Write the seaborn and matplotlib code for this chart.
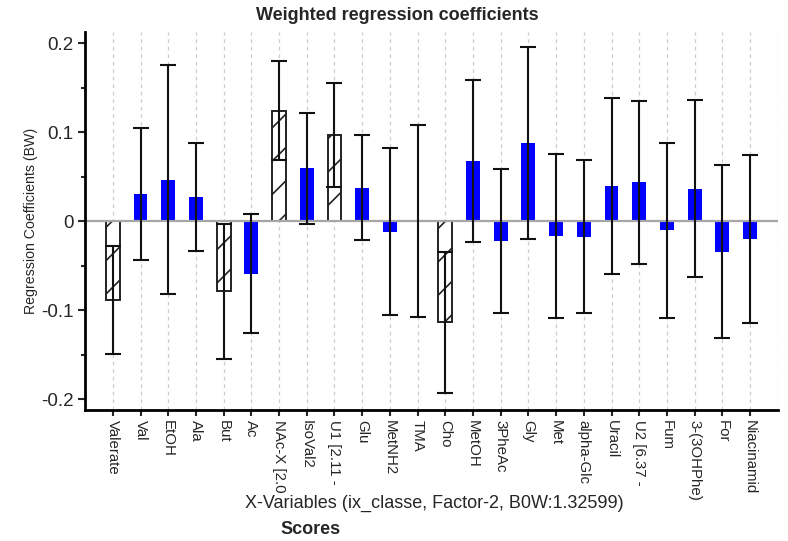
import matplotlib
matplotlib.use("Agg")
import matplotlib.pyplot as plt
from matplotlib.ticker import MultipleLocator
import numpy as np
import pandas as pd
import seaborn as sns

variables = ["Valerate", "Val", "EtOH", "Ala", "But", "Ac", "NAc-X [2.0",
             "IsoVal2", "U1 [2.11 -", "Glu", "MetNH2", "TMA", "Cho", "MetOH",
             "3PheAc", "Gly", "Met", "alpha-Glc", "Uracil", "U2 [6.37 -",
             "Fum", "3-(3OHPhe)", "For", "Niacinamid"]
coefficients = [-0.0885, 0.031, 0.047, 0.0275, -0.0787, -0.0588, 0.1245,
                0.0596, 0.0975, 0.038, -0.0115, 0.0005, -0.1133, 0.068,
                -0.022, 0.088, -0.016, -0.017, 0.040, 0.044,
                -0.0100, 0.037, -0.0340, -0.0195]
uncertainty = [0.061, 0.0745, 0.129, 0.061, 0.076, 0.067, 0.0555,
               0.0626, 0.0585, 0.059, 0.094, 0.108, 0.0795, 0.0908,
               0.0806, 0.1075, 0.092, 0.0858, 0.099, 0.0915,
               0.098, 0.100, 0.0972, 0.0944]
significant = ["Valerate", "But", "NAc-X [2.0", "U1 [2.11 -", "Cho"]

df = pd.DataFrame({"variable": variables, "coef": coefficients, "err": uncertainty})

sns.set_style("white")
plt.rcParams["font.family"] = ["Liberation Sans", "DejaVu Sans"]
plt.rcParams["hatch.color"] = "#3a3a3a"
plt.rcParams["hatch.linewidth"] = 1.2

fig = plt.figure(figsize=(7.88, 5.41), dpi=100)
ax = fig.add_axes([0.108, 0.242, 0.879, 0.699])

n = len(variables)

# dashed guides at each variable and at the right end
for xpos in list(range(n)) + [n]:
    ax.axvline(xpos, color="#cccccc", linestyle=(0, (3, 3)), linewidth=0.9, zorder=0)
ax.axhline(0, color="#a6a6a6", linewidth=1.6, zorder=2.5)

sns.barplot(data=df, x="variable", y="coef", order=variables, width=0.5,
            color="#0000ff", saturation=1, errorbar=None, ax=ax, zorder=2)

for patch, name in zip(ax.patches, variables):
    patch.set_linewidth(0)
    if name in significant:
        patch.set_facecolor("white")
        patch.set_edgecolor("#222222")
        patch.set_linewidth(1.4)
        patch.set_hatch("/")

ax.errorbar(np.arange(n), df["coef"], yerr=df["err"], fmt="none",
            ecolor="#111111", elinewidth=1.5, capsize=6, capthick=1.5, zorder=3)

ax.set_xlim(-1, n)
ax.set_ylim(-0.212, 0.213)

ax.set_yticks([-0.2, -0.1, 0, 0.1, 0.2])
ax.yaxis.set_minor_locator(MultipleLocator(0.05))
ax.set_yticklabels(["-0.2", "-0.1", "0", "0.1", "0.2"], fontsize=13.5)
ax.tick_params(axis="y", which="major", direction="out", length=5, width=1.5, left=True)
ax.tick_params(axis="y", which="minor", direction="out", length=3, width=1.5, left=True)
ax.tick_params(axis="x", direction="out", length=4, width=1.5, bottom=True)

ax.set_xticks(np.arange(n))
ax.set_xticklabels(variables, rotation=270, fontsize=10.8, va="top", ha="center")

for side in ["top", "right"]:
    ax.spines[side].set_visible(False)
for side in ["left", "bottom"]:
    ax.spines[side].set_linewidth(2)
    ax.spines[side].set_color("black")

ax.set_xlabel("")
ax.set_ylabel("Regression Coefficients (BW)", fontsize=10.2, labelpad=2)

fig.text(0.504, 0.972, "Weighted regression coefficients", fontsize=13,
         fontweight="bold", ha="center", va="center")
fig.text(0.551, 0.070, "X-Variables (ix_classe, Factor-2, B0W:1.32599)",
         fontsize=13, ha="center", va="center")
fig.text(0.394, 0.022, "Scores", fontsize=13, fontweight="bold", ha="center", va="center")

fig.savefig("out.png", dpi=100)
